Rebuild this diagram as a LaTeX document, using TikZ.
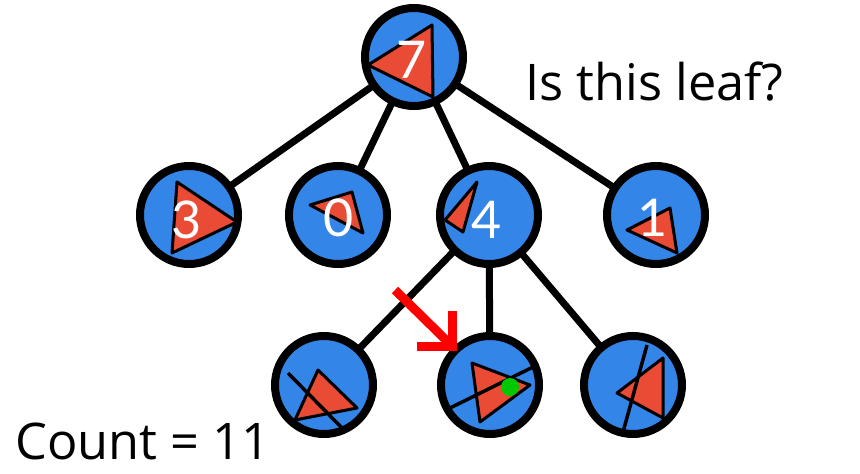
\documentclass[tikz,border=0pt]{standalone}
\usepackage{fontspec}
\setmainfont{Open Sans}
\newfontfamily\digitfont{Lato}
\definecolor{nodeblue}{HTML}{3385E8}
\definecolor{trired}{HTML}{E94B35}
\definecolor{dotgreen}{HTML}{00C800}
\begin{document}
\begin{tikzpicture}[x=1pt,y=-1pt,
  treenode/.style={circle,draw=black,line width=8pt,fill=nodeblue,minimum size=98pt,inner sep=0pt},
  treeedge/.style={draw=black,line width=7pt},
  tri/.style={fill=trired,draw=black,line width=3pt,line join=round},
  cutline/.style={draw=black,line width=3.5pt},
  digit/.style={text=white,font=\digitfont\fontsize{52}{52}\selectfont,inner sep=0pt},
  label/.style={font=\fontsize{50.5}{50.5}\selectfont,inner sep=0pt,anchor=base west},
  pointer/.style={draw=red,line width=9pt,line join=miter}]
\useasboundingbox (0,0) rectangle (860,474);
% node positions
\coordinate (pr) at (414,57);
\coordinate (pa) at (189,215);
\coordinate (pb) at (338,215);
\coordinate (pc) at (489,215);
\coordinate (pd) at (656,215);
\coordinate (pe) at (324,385);
\coordinate (pf) at (490,385);
\coordinate (pg) at (633,385);
% edges
\draw[treeedge] (pr) -- (pa);
\draw[treeedge] (pr) -- (pb);
\draw[treeedge] (pr) -- (pc);
\draw[treeedge] (pr) -- (pd);
\draw[treeedge] (pc) -- (pe);
\draw[treeedge] (pc) -- (pf);
\draw[treeedge] (pc) -- (pg);
% circles
\node[treenode] (root) at (pr) {};
\node[treenode] (n3) at (pa) {};
\node[treenode] (n0) at (pb) {};
\node[treenode] (n4) at (pc) {};
\node[treenode] (n1) at (pd) {};
\node[treenode] (la) at (pe) {};
\node[treenode] (lb) at (pf) {};
\node[treenode] (lc) at (pg) {};
% triangles
\draw[tri] (368,65) -- (432,25) -- (433,97) -- cycle;
\draw[tri] (177,182) -- (237,222) -- (172,253) -- cycle;
\draw[tri] (310,205) -- (352,192) -- (363,233) -- cycle;
\draw[tri] (477,182) -- (445,220) -- (463,232) -- cycle;
\draw[tri] (627,230) -- (670,208) -- (677,253) -- cycle;
\draw[tri] (318,370) -- (295,420) -- (357,408) -- cycle;
\draw[tri] (472,363) -- (530,385) -- (480,422) -- cycle;
\draw[tri] (663,358) -- (617,393) -- (663,418) -- cycle;
% cut lines
\draw[cutline] (288,373) -- (342,428);
\draw[cutline] (450,408) -- (533,367);
\draw[cutline] (647,345) -- (623,432);
\fill[dotgreen] (510,387) circle (9);
% digits
\node[digit] (t7) at (412,60) {7};
\node[digit] (t3) at (187,220) {3};
\node[digit] (t0) at (339,218) {0};
\node[digit] (t4) at (487,220) {4};
\node[digit] (t1) at (653,218) {1};
% pointer arrow
\coordinate (ps) at (395,290);
\coordinate (pt) at (452,346);
\draw[pointer] (ps) -- (pt);
\draw[pointer] (417,346) -- (pt) -- (452,311);
% labels
\node[label] (q) at (525,100) {Is this leaf?};
\node[label] (cnt) at (15,459) {Count = 11};
\end{tikzpicture}
\end{document}
